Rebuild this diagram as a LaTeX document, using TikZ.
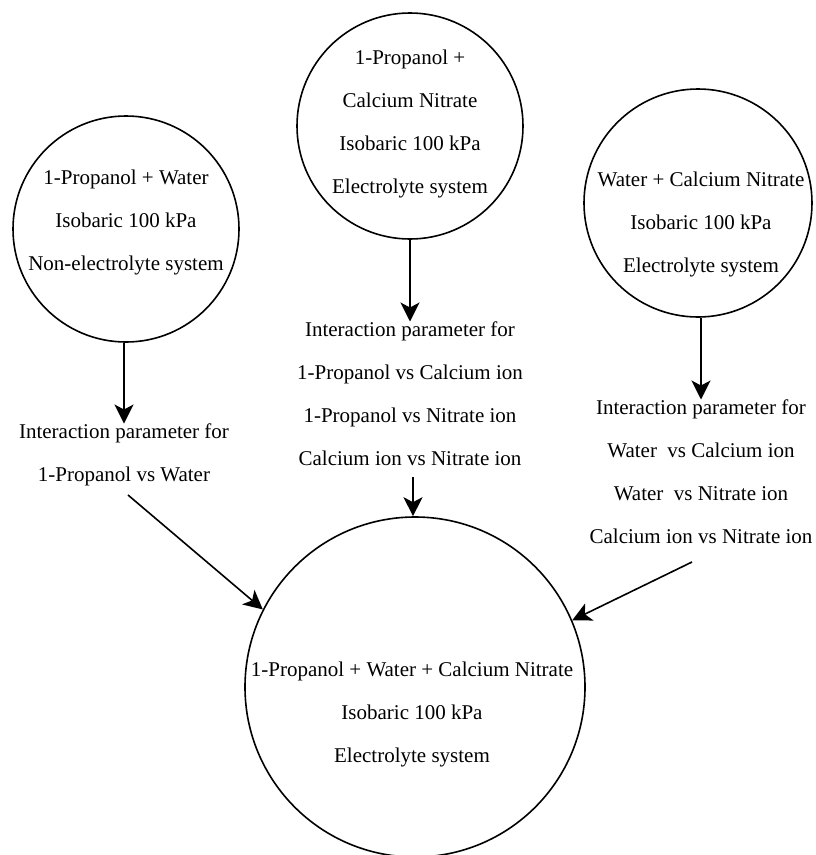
\documentclass[tikz,border=0pt]{standalone}
\usepackage{fontspec}
\setmainfont{Liberation Serif}
\usetikzlibrary{arrows.meta}
\begin{document}
\begin{tikzpicture}[x=1pt,y=-1pt,
  ring/.style={draw,circle,line width=1.6pt,inner sep=0pt},
  txt/.style={align=center,inner sep=0pt,anchor=north,font=\fontsize{21}{43}\selectfont},
  conn/.style={line width=1.6pt,-{Stealth[length=19pt,width=19pt,inset=5pt]}}]
\useasboundingbox (0,0) rectangle (816,855);
% circles
\node[ring,minimum size=226pt] (c1) at (126,229) {};
\node[ring,minimum size=226pt] (c2) at (410,126) {};
\node[ring,minimum size=228pt] (c3) at (698,203) {};
\node[ring,minimum size=340pt] (cb) at (415,687) {};
% circle texts
\node[txt] (t1) at (126,169.5) {1-Propanol + Water\\Isobaric 100 kPa\\Non-electrolyte system};
\node[txt] (t2) at (410,49.5) {1-Propanol +\\Calcium Nitrate\\Isobaric 100 kPa\\Electrolyte system};
\node[txt] (t3) at (701,171.5) {Water + Calcium Nitrate\\Isobaric 100 kPa\\Electrolyte system};
\node[txt] (tb) at (412,661.5) {1-Propanol + Water + Calcium Nitrate\\Isobaric 100 kPa\\Electrolyte system};
% parameter labels
\node[txt] (l1) at (124,423.5) {Interaction parameter for\\1-Propanol vs Water};
\node[txt] (l2) at (410,321.5) {Interaction parameter for\\1-Propanol vs Calcium ion\\1-Propanol vs Nitrate ion\\Calcium ion vs Nitrate ion};
\node[txt] (l3) at (701,399.5) {Interaction parameter for\\Water\ \ vs Calcium ion\\Water\ \ vs Nitrate ion\\Calcium ion vs Nitrate ion};
% start points of the slanted connectors
\coordinate (s1) at (128,495);
\coordinate (s3) at (692,562);
\coordinate (s2) at (413,477);
% connectors
\draw[conn] (l1.north |- c1.south) -- (l1.north);
\draw[conn] (c2.south) -- (l2.north);
\draw[conn] (l3.north |- c3.south) -- (l3.north);
\draw[conn] (s1) -- (cb.153);
\draw[conn] (s2) -- (s2 |- cb.north);
\draw[conn] (s3) -- (cb.23);
\end{tikzpicture}
\end{document}
